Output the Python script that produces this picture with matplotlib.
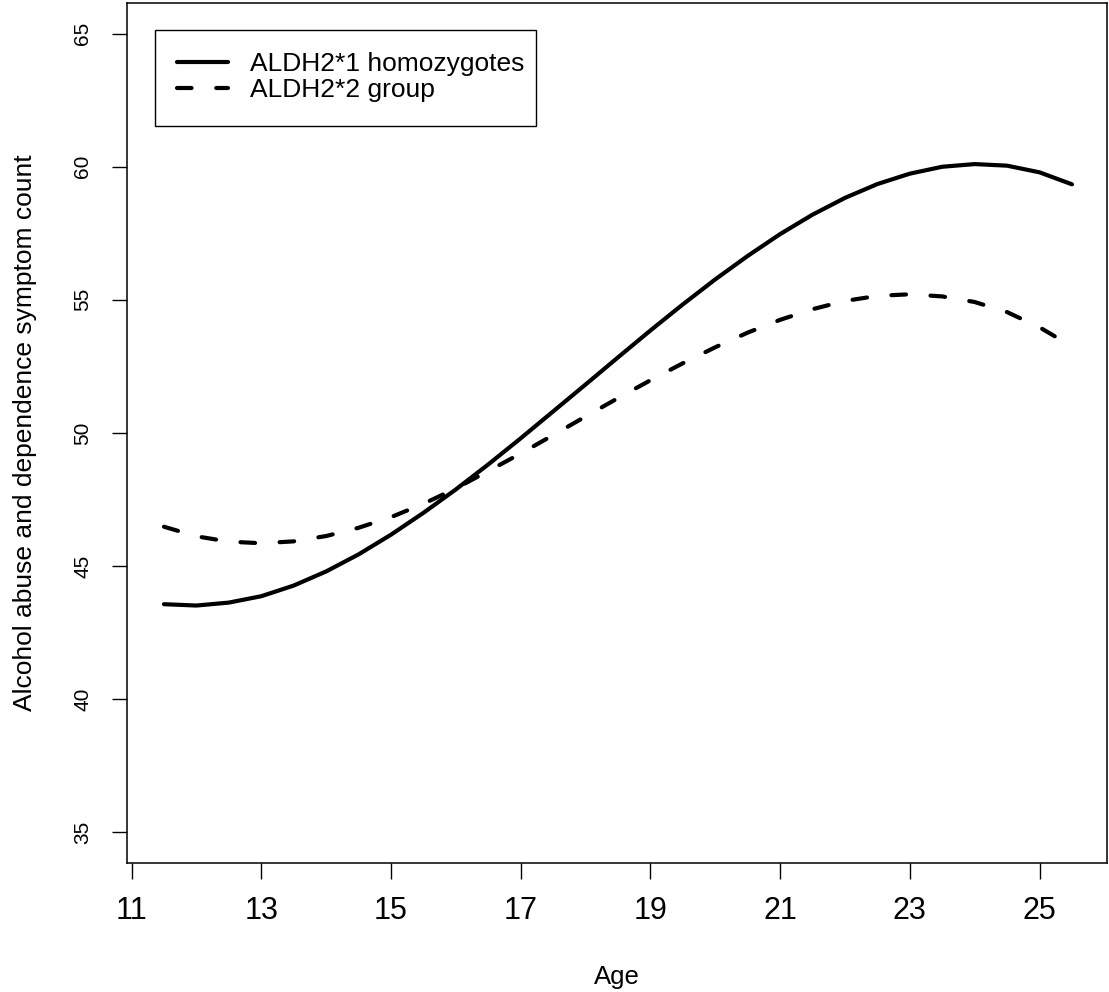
import matplotlib
matplotlib.use('Agg')
import matplotlib.pyplot as plt
from matplotlib.patches import Rectangle

plt.rcParams['font.family'] = ['Liberation Sans', 'DejaVu Sans']

# ---- data ----
age = [11.5, 12.0, 12.5, 13.0, 13.5, 14.0, 14.5, 15.0, 15.5, 16.0,
       16.5, 17.0, 17.5, 18.0, 18.5, 19.0, 19.5, 20.0, 20.5, 21.0,
       21.5, 22.0, 22.5, 23.0, 23.5, 24.0, 24.5, 25.0, 25.5]

aldh2_1 = [43.57, 43.52, 43.63, 43.87, 44.27, 44.80, 45.44, 46.18, 47.00, 47.88,
           48.82, 49.80, 50.81, 51.82, 52.84, 53.85, 54.83, 55.77, 56.65, 57.47,
           58.20, 58.83, 59.35, 59.74, 60.00, 60.10, 60.04, 59.79, 59.34]

aldh2_2 = [46.48, 46.12, 45.92, 45.86, 45.93, 46.13, 46.44, 46.84, 47.34, 47.92,
           48.57, 49.23, 49.92, 50.62, 51.31, 51.98, 52.62, 53.22, 53.77, 54.25,
           54.65, 54.96, 55.15, 55.21, 55.13, 54.92, 54.54, 53.97, 53.25]

labels = ["ALDH2*1 homozygotes", "ALDH2*2 group"]
xticks = [11, 13, 15, 17, 19, 21, 23, 25]
yticks = [35, 40, 45, 50, 55, 60, 65]

# ---- figure ----
W, H = 1109, 992
fig = plt.figure(figsize=(W / 100, H / 100), dpi=100)
ax_l, ax_r, ax_t, ax_b = 127, 1107, 3, 863
ax = fig.add_axes([ax_l / W, 1 - ax_b / H, (ax_r - ax_l) / W, (ax_b - ax_t) / H])

ax.plot(age, aldh2_1, color='black', lw=3, solid_capstyle='round', label=labels[0])
ax.plot(age, aldh2_2, color='black', lw=3, dashes=(3.5, 5.9),
        dash_capstyle='round', label=labels[1])

ax.set_xlim(10.93, 26.04)
ax.set_ylim(33.85, 66.15)
ax.set_xticks(xticks)
ax.set_yticks(yticks)
ax.tick_params(axis='x', direction='out', length=11.5, width=1, pad=12, labelsize=22)
ax.tick_params(axis='y', direction='out', length=11, width=1, pad=14, labelsize=15,
               labelrotation=90)
for lab in ax.get_yticklabels():
    lab.set_va('center')

for s in ax.spines.values():
    s.set_linewidth(1.1)

ax.set_xlabel("Age", fontsize=18.5)
ax.set_ylabel("Alcohol abuse and dependence symptom count", fontsize=19)
ax.xaxis.set_label_coords(0.5, -(965 - ax_b) / (ax_b - ax_t))
ax.yaxis.set_label_coords((37 - ax_l) / (ax_r - ax_l), 0.5)

# legend: entries without frame, box drawn separately (R style padding)
aw, ah = ax_r - ax_l, ax_b - ax_t
ax.legend(loc='upper left', bbox_to_anchor=((177 - ax_l) / aw, (ax_b - 52) / ah),
          frameon=False, fontsize=19, borderpad=0, borderaxespad=0,
          handlelength=1.93, handletextpad=0.83, labelspacing=0.07)
ax.add_patch(Rectangle(((155 - ax_l) / aw, (ax_b - 125.7) / ah), 380.7 / aw, 95.7 / ah,
                       transform=ax.transAxes, fill=False, edgecolor='black', lw=1))

fig.savefig("out.png", dpi=100)
